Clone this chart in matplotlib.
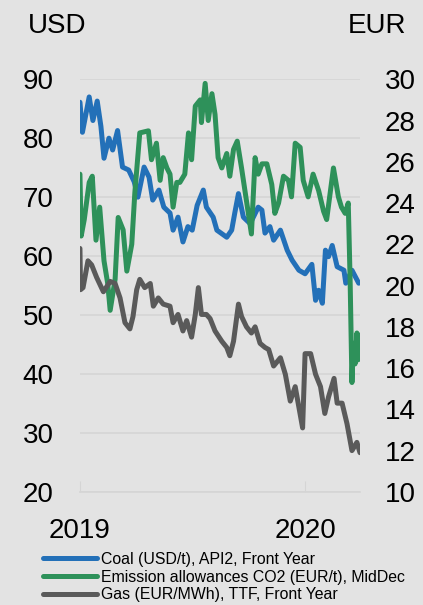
import pandas as pd
import matplotlib.pyplot as plt
import matplotlib.dates as mdates

plt.rcParams['font.family'] = ['Liberation Sans', 'DejaVu Sans']

# days after 2019-01-01
coal_day = [0, 4, 15, 21, 28, 34, 39, 47, 53, 61, 69, 79, 88, 94, 104, 112, 118, 128, 136,
            146, 151, 159, 167, 175, 182, 190, 200, 205, 216, 222, 238, 246, 251, 257, 265,
            276, 289, 295, 300, 308, 314, 325, 336, 344, 355, 365, 376, 382, 387, 393, 398,
            403, 409, 417, 428, 431, 441, 452]
coal_usd = [86.1, 81.0, 87.0, 83.0, 86.3, 82.0, 76.6, 80.0, 78.0, 81.3, 75.1, 74.6, 72.6, 70.0,
            75.1, 73.4, 69.5, 71.2, 68.3, 67.3, 64.4, 66.6, 62.4, 65.0, 64.4, 68.6, 71.2, 68.3,
            66.6, 64.4, 63.2, 64.4, 67.3, 70.6, 66.6, 65.5, 68.3, 67.8, 63.9, 65.0, 62.7, 64.4,
            61.0, 59.3, 57.6, 57.0, 58.6, 52.5, 54.2, 52.0, 61.0, 59.9, 61.8, 58.2, 57.6, 55.4,
            57.6, 55.4]

co2_day = [0, 2, 7, 15, 20, 26, 32, 39, 45, 49, 57, 62, 70, 76, 84, 89, 97, 111, 116, 124,
           130, 135, 141, 146, 151, 157, 162, 170, 176, 181, 187, 195, 197, 203, 208, 214, 219,
           224, 230, 238, 243, 249, 255, 262, 270, 278, 284, 289, 295, 303, 311, 316, 322, 330,
           338, 343, 349, 357, 362, 370, 378, 387, 395, 400, 411, 419, 424, 430, 435, 438, 441,
           443, 446, 449, 451, 454]
co2_eur = [25.4, 22.4, 23.2, 25.0, 25.3, 22.2, 23.8, 21.2, 20.1, 18.8, 20.3, 23.3, 22.7, 20.7,
           22.0, 24.5, 27.4, 27.5, 26.1, 26.9, 25.1, 26.2, 25.7, 25.4, 23.8, 25.0, 25.0, 25.4,
           27.4, 26.1, 28.7, 29.0, 27.9, 29.8, 28.0, 29.3, 28.3, 26.2, 25.7, 26.4, 25.3, 26.6,
           27.0, 25.7, 24.1, 22.5, 26.2, 25.4, 25.9, 25.9, 24.9, 23.5, 24.0, 25.3, 25.1, 24.3,
           26.9, 26.7, 25.1, 24.3, 25.4, 24.6, 23.6, 23.2, 25.7, 24.3, 23.8, 23.5, 24.0, 20.3,
           15.3, 17.2, 16.2, 17.7, 16.4, 17.6]

gas_day = [0, 1, 5, 13, 19, 27, 38, 49, 57, 65, 73, 81, 86, 92, 97, 105, 114, 119, 127, 135,
           146, 151, 159, 167, 173, 181, 187, 192, 197, 205, 211, 219, 230, 238, 243, 249, 257,
           262, 270, 278, 284, 292, 300, 306, 314, 325, 333, 341, 349, 355, 361, 365, 374, 382,
           390, 397, 403, 412, 417, 425, 433, 441, 449, 454]
gas_eur = [21.8, 19.8, 19.9, 21.2, 21.0, 20.4, 19.7, 20.2, 20.1, 19.4, 18.2, 17.9, 18.5, 19.8,
           20.3, 19.9, 20.1, 19.0, 19.4, 19.1, 19.0, 18.2, 18.6, 17.8, 18.3, 17.5, 18.6, 19.9,
           18.6, 18.6, 18.4, 17.8, 17.3, 17.0, 16.6, 17.3, 19.1, 18.5, 18.0, 17.7, 18.0, 17.2,
           17.0, 16.9, 16.1, 16.5, 15.7, 14.4, 15.1, 14.1, 13.1, 16.7, 16.7, 15.7, 15.1, 13.8,
           14.6, 15.5, 14.3, 14.3, 13.3, 12.0, 12.4, 11.9]

labels = ['Coal (USD/t), API2, Front Year',
          'Emission allowances CO2 (EUR/t), MidDec',
          'Gas (EUR/MWh), TTF, Front Year']
colors = ['#2370b8', '#2e915a', '#5a5a5a']

start = pd.Timestamp('2019-01-01')
def to_dates(days):
    return start + pd.to_timedelta(days, unit='D')

bg = '#e3e3e3'
fig = plt.figure(figsize=(4.23, 6.05), dpi=100, facecolor=bg)
ax = fig.add_axes([0.189, 0.187, 0.662, 0.682], facecolor=bg)
ax2 = ax.twinx()

l1, = ax.plot(to_dates(coal_day), coal_usd, color=colors[0], lw=3.6, solid_capstyle='round')
l2, = ax2.plot(to_dates(co2_day), co2_eur, color=colors[1], lw=3.6, solid_capstyle='round')
l3, = ax2.plot(to_dates(gas_day), gas_eur, color=colors[2], lw=3.6, solid_capstyle='round')

ax.set_xlim(start, start + pd.Timedelta(days=454))
ax.set_ylim(20, 90)
ax2.set_ylim(10, 30)
ax.set_yticks(range(20, 91, 10))
ax2.set_yticks(range(10, 31, 2))
ax.grid(axis='y', color='#d5d5d5', lw=1.2)
ax.set_axisbelow(True)

ax.xaxis.set_major_locator(mdates.YearLocator())
ax.xaxis.set_major_formatter(mdates.DateFormatter('%Y'))
ax.tick_params(axis='x', direction='in', length=8, color='#d5d5d5', labelsize=20, pad=19)
ax.tick_params(axis='y', length=0, labelsize=20, pad=19)
ax2.tick_params(axis='y', length=0, labelsize=20, pad=18)

for a in (ax, ax2):
    for s in a.spines.values():
        s.set_visible(False)
ax.spines['bottom'].set_visible(True)
ax.spines['bottom'].set_color('#d5d5d5')
ax.spines['bottom'].set_linewidth(1.2)

fig.text(0.066, 0.957, 'USD', fontsize=20, va='center', ha='left')
fig.text(0.96, 0.957, 'EUR', fontsize=20, va='center', ha='right')

fig.legend([l1, l2, l3], labels, loc='lower left', bbox_to_anchor=(0.075, -0.014),
           frameon=False, fontsize=11.4, handlelength=3.4, handletextpad=0.25,
           labelspacing=0.18, borderpad=0.2)

fig.savefig('out.png', dpi=100, facecolor=bg)
